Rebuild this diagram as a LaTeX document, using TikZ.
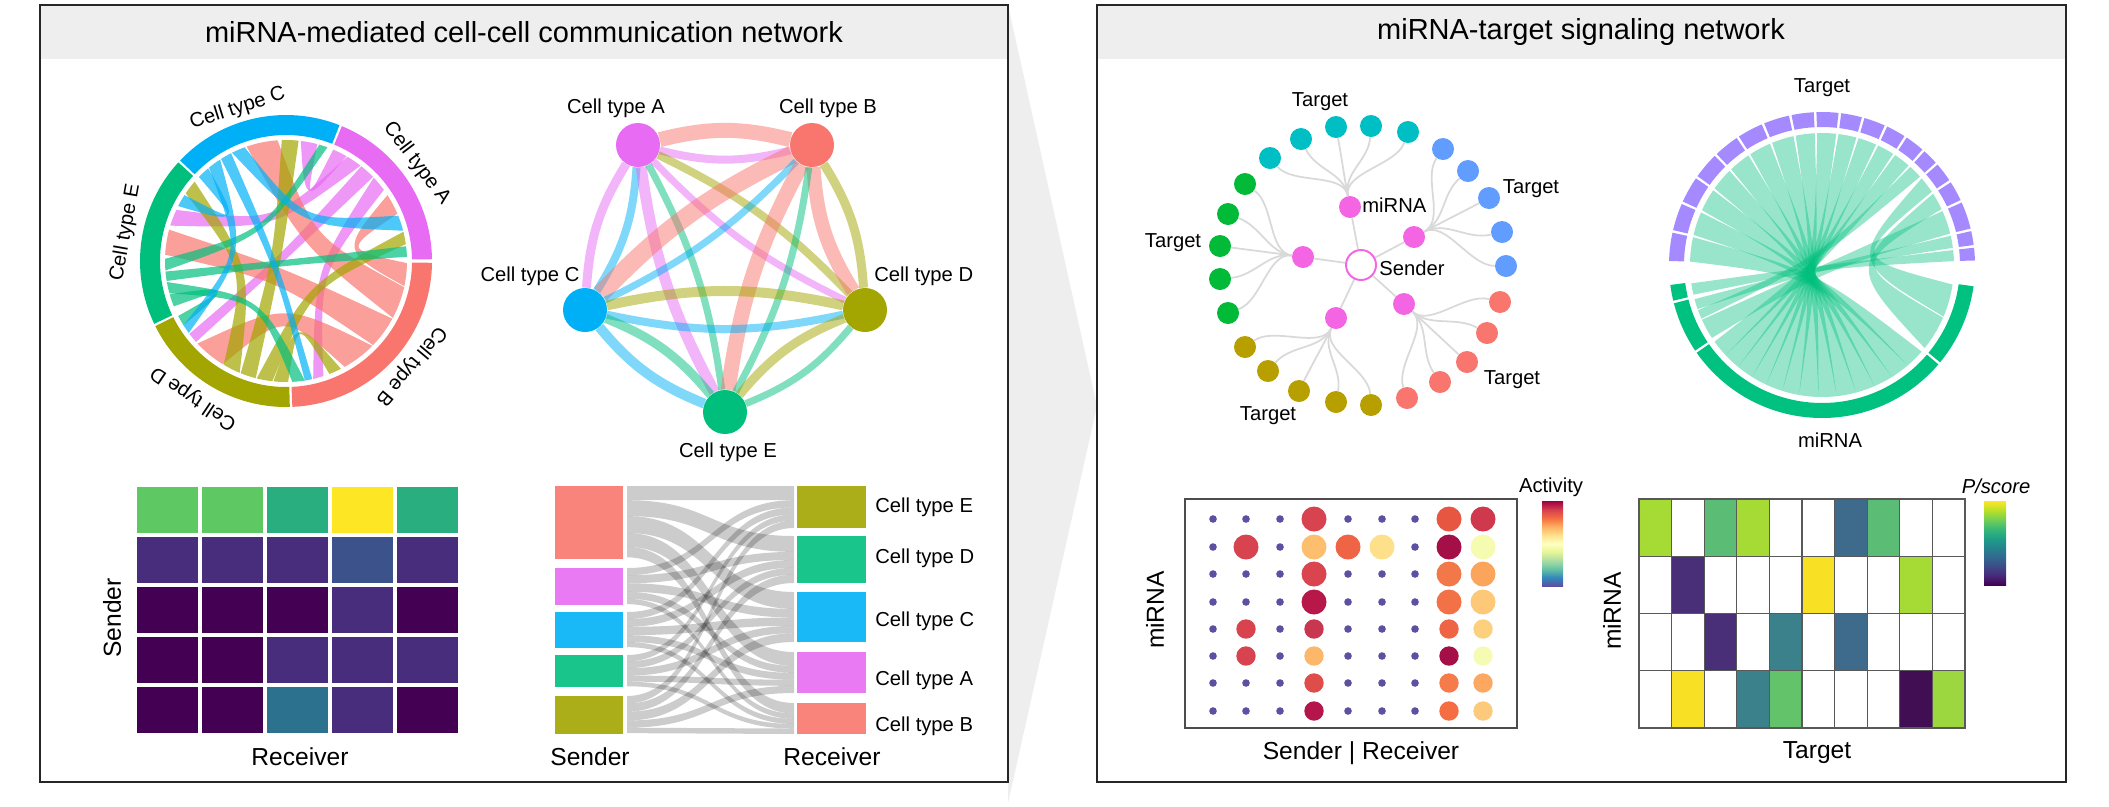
\documentclass[tikz,border=0pt]{standalone}
\usepackage{fontspec}
\setmainfont{Liberation Sans}
\usepackage{xcolor}
\usetikzlibrary{calc,backgrounds}

% cell type colours
\definecolor{ctA}{HTML}{E76BF3}
\definecolor{ctB}{HTML}{F8766D}
\definecolor{ctC}{HTML}{00B0F6}
\definecolor{ctD}{HTML}{A3A500}
\definecolor{ctE}{HTML}{00BF7D}
\definecolor{hdr}{HTML}{EEEEEE}
% tree colours
\definecolor{mirc}{HTML}{F365E3}
\definecolor{tgcy}{HTML}{00BFC4}
\definecolor{tgbl}{HTML}{619CFF}
\definecolor{tgsa}{HTML}{F8766D}
\definecolor{tgol}{HTML}{B79F00}
\definecolor{tggr}{HTML}{00BA38}
\definecolor{linkgray}{HTML}{D9D9D9}
\definecolor{tring}{HTML}{A58AFF}
\definecolor{mring}{HTML}{00C17F}
\definecolor{dotlo}{HTML}{5E4FA2}
% viridis cells
\definecolor{v1}{HTML}{440154}
\definecolor{v2}{HTML}{472D7B}
\definecolor{v3}{HTML}{3B528B}
\definecolor{v4}{HTML}{2C728E}
\definecolor{v5}{HTML}{29AF7F}
\definecolor{v6}{HTML}{5EC962}
\definecolor{v7}{HTML}{FDE725}
\definecolor{hyg}{HTML}{A6DB35}
\definecolor{hgn}{HTML}{5BBC75}
\definecolor{hsb}{HTML}{3E6A8C}
\definecolor{hdp}{HTML}{482F77}
\definecolor{hyl}{HTML}{F8E124}
\definecolor{htl}{HTML}{3B818C}
\definecolor{hgg}{HTML}{63C36A}
\definecolor{hdk}{HTML}{410E53}
\definecolor{hyy}{HTML}{9DD73F}
% colour bars
\definecolor{sp1}{HTML}{5E4FA2}\definecolor{sp2}{HTML}{3288BD}
\definecolor{sp3}{HTML}{66C2A5}\definecolor{sp4}{HTML}{ABDDA4}
\definecolor{sp5}{HTML}{E6F598}\definecolor{sp6}{HTML}{FFFFBF}
\definecolor{sp7}{HTML}{FEE08B}\definecolor{sp8}{HTML}{FDAE61}
\definecolor{sp9}{HTML}{F46D43}\definecolor{sp10}{HTML}{D53E4F}
\definecolor{sp11}{HTML}{9E0142}
\definecolor{vr1}{HTML}{440154}\definecolor{vr2}{HTML}{482878}
\definecolor{vr3}{HTML}{3E4A89}\definecolor{vr4}{HTML}{31688E}
\definecolor{vr5}{HTML}{26828E}\definecolor{vr6}{HTML}{1F9E89}
\definecolor{vr7}{HTML}{35B779}\definecolor{vr8}{HTML}{6DCD59}
\definecolor{vr9}{HTML}{B4DE2C}\definecolor{vr10}{HTML}{FDE725}

\pgfdeclareverticalshading{spectralbar}{100bp}{color(0bp)=(sp1); color(25bp)=(sp1);
  color(30bp)=(sp2); color(35bp)=(sp3); color(40bp)=(sp4); color(45bp)=(sp5);
  color(50bp)=(sp6); color(55bp)=(sp7); color(60bp)=(sp8); color(65bp)=(sp9);
  color(70bp)=(sp10); color(75bp)=(sp11); color(100bp)=(sp11)}
\pgfdeclareverticalshading{viridisbar}{100bp}{color(0bp)=(vr1); color(25bp)=(vr1);
  color(30.5bp)=(vr2); color(36bp)=(vr3); color(41.5bp)=(vr4); color(47bp)=(vr5);
  color(52.5bp)=(vr6); color(58bp)=(vr7); color(63.5bp)=(vr8); color(69bp)=(vr9);
  color(75bp)=(vr10); color(100bp)=(vr10)}

% ribbon between two arcs of a chord diagram (#1 = pull towards the centre)
\newcommand{\chordrib}[7][0.5]{%
  \fill[fill=#2] (#3:#7) arc[start angle=#3, end angle=#4, radius=#7]
    .. controls ({(#4+#5)/2}:{#1*#7*cos((#4-#5)/2)}) .. (#5:#7)
    arc[start angle=#5, end angle=#6, radius=#7]
    .. controls ({(#6+#3)/2}:{#1*#7*cos((#6-#3)/2)}) .. cycle;}
% one sector of the outer ring
\newcommand{\ringseg}[5]{%
  \fill[fill=#1] (#2:#4) arc[start angle=#2, end angle=#3, radius=#4]
    -- (#3:#5) arc[start angle=#3, end angle=#2, radius=#5] -- cycle;}

\begin{document}
\begin{tikzpicture}[x=0.02cm,y=-0.02cm,
  lbl/.style={font=\fontsize{11.5}{13}\selectfont, inner sep=0pt},
  axlbl/.style={font=\fontsize{14}{16}\selectfont, inner sep=0pt},
  ttl/.style={font=\fontsize{16.5}{19}\selectfont, inner sep=0pt},
  panel/.style={draw=black!85, line width=1.5pt},
  ctnode/.style={circle, fill=#1, inner sep=0pt, minimum size=0.88cm},
  nedge/.style args={#1/#2}{draw=#1, line width=#2*0.02cm, draw opacity=.5},
  tnode/.style={circle, fill=#1, inner sep=0pt, minimum size=0.44cm},
  tlink/.style={draw=linkgray, line width=1pt},
  flow/.style={fill=black, fill opacity=.2},
  cellline/.style={draw=black!65, line width=.6pt}]
  \useasboundingbox (0,0) rectangle (2109,806);

  % wedge between the panels
  \fill[hdr] (1008,5) -- (1097,406) -- (1008,803) -- cycle;

  % panels
  \fill[hdr] (40,5) rectangle (1008,59);
  \draw[panel] (40,5) rectangle (1008,782);
  \node[ttl] (ttlL) at (524,32) {miRNA-mediated cell-cell communication network};
  \fill[hdr] (1097,5) rectangle (2066,59);
  \draw[panel] (1097,5) rectangle (2066,782);
  \node[ttl] (ttlR) at (1581,32) {miRNA-target signaling network};

  %% chord diagram of cell types
  \begin{scope}[shift={(286,261)}, yscale=-1]
    \begin{scope}[fill opacity=.7]
      \foreach \c/\a/\b/\p/\q in {ctA/67/60/83/75, ctA/59.5/52/163/155, ctA/51.5/44/-138/-143, ctA/43.5/36/-72/-77,
          ctB/-1/-12/33/23, ctB/-12.5/-28/109/94, ctB/-28.5/-44/177/165, ctB/-44.5/-61/-121.5/-137,
          ctD/-89/-96/-63/-69, ctD/-96.5/-104/14/8, ctD/-104.5/-112/92/84, ctD/-112.5/-121/146/139,
          ctE/202/196/-148/-153, ctE/195.5/190/-81/-87, ctE/189.5/185/7/2, ctE/184.5/179/74/70,
          ctC/136/130/153/147, ctC/129.5/123/-143.5/-148, ctC/122.5/117/-77.5/-81, ctC/116.5/110/22/14.5}
        {\chordrib{\c}{\a}{\b}{\p}{\q}{121}}
    \end{scope}
    \ringseg{ctA}{67.5}{0.7}{146}{126}
    \ringseg{ctB}{-0.7}{-87.5}{146}{126}
    \ringseg{ctD}{-88.5}{-153.5}{146}{126}
    \ringseg{ctE}{205.5}{137.5}{146}{126}
    \ringseg{ctC}{136.5}{68.5}{146}{126}
    \node[lbl, rotate=-53] (chA) at (36.7:163) {Cell type A};
    \node[lbl, rotate=-130] (chB) at (-40:163) {Cell type B};
    \node[lbl, rotate=146] (chD) at (-124:165) {Cell type D};
    \node[lbl, rotate=80] (chE) at (170:163) {Cell type E};
    \node[lbl, rotate=17.6] (chC) at (107.6:160) {Cell type C};
  \end{scope}

  %% network of cell types
  \node[ctnode=ctA] (nA) at (638,145) {};
  \node[ctnode=ctB] (nB) at (812,145) {};
  \node[ctnode=ctC] (nC) at (585,310) {};
  \node[ctnode=ctD] (nD) at (865,310) {};
  \node[ctnode=ctE] (nE) at (725,412) {};
  \node[lbl] (labA) at (616,108) {Cell type A};
  \node[lbl] (labB) at (828,108) {Cell type B};
  \node[lbl] (labC) at (530,276) {Cell type C};
  \node[lbl, anchor=west] (labD) at (874,276) {Cell type D};
  \node[lbl] (labE) at (728,452) {Cell type E};
  \begin{scope}[on background layer]
    \foreach \s/\t/\c/\w/\bd in {nB/nA/ctB/15/14, nA/nB/ctA/8/14, nC/nA/ctC/8/14, nA/nC/ctA/9/14,
        nA/nE/ctA/11/10, nE/nA/ctE/7/10, nA/nD/ctA/7/10, nD/nA/ctD/8/10,
        nB/nC/ctB/18/10, nC/nB/ctC/7/10, nB/nD/ctB/14/14, nD/nB/ctD/9/14,
        nB/nE/ctB/15/10, nE/nB/ctE/7/10, nC/nD/ctC/8/12, nD/nC/ctD/10/12,
        nC/nE/ctC/10/14, nE/nC/ctE/9/14, nD/nE/ctD/9/14, nE/nD/ctE/7/14}
      {\draw[nedge=\c/\w] (\s) to[bend right=\bd] (\t);}
  \end{scope}

  %% heatmap sender x receiver
  \foreach \r/\row in {0/{v6,v6,v5,v7,v5}, 1/{v2,v2,v2,v3,v2}, 2/{v1,v1,v1,v2,v1},
      3/{v1,v1,v2,v2,v2}, 4/{v1,v1,v4,v2,v1}}
    \foreach \c [count=\k from 0] in \row
      {\fill[fill=\c] ({137+65*\k},{487+50*\r}) rectangle +(61,46);}
  \node[axlbl, rotate=90] (hmSnd) at (112,618) {Sender};
  \node[axlbl] (hmRcv) at (300,757) {Receiver};

  %% sankey
  \foreach \lt/\lh/\lc in {486/73/0, 568/37/73, 612/36/110, 655/32/146, 696/38/178}
    \foreach \rt/\rh/\rc in {486/42/0, 536/47/42, 592/50/89, 652/41/139, 703/31/180} {
      \pgfmathsetmacro\ya{\lt+\lh*\rc/216}
      \pgfmathsetmacro\yb{\ya+\lh*\rh/216}
      \pgfmathsetmacro\yc{\rt+\rh*\lc/216}
      \pgfmathsetmacro\yd{\yc+\lh*\rh/216}
      \fill[flow] (627,\ya) .. controls (711,\ya) and (711,\yc) .. (794,\yc)
        -- (794,\yd) .. controls (711,\yd) and (711,\yb) .. (627,\yb) -- cycle;
    }
  \fill[ctB!90] (555,486) rectangle (623,559);
  \fill[ctA!90] (555,568) rectangle (623,605);
  \fill[ctC!90] (555,612) rectangle (623,648);
  \fill[ctE!90] (555,655) rectangle (623,687);
  \fill[ctD!90] (555,696) rectangle (623,734);
  \fill[ctD!90] (797,486) rectangle (866,528);
  \fill[ctE!90] (797,536) rectangle (866,583);
  \fill[ctC!90] (797,592) rectangle (866,642);
  \fill[ctA!90] (797,652) rectangle (866,693);
  \fill[ctB!90] (797,703) rectangle (866,734);
  \node[lbl, anchor=west] (skE) at (875,507) {Cell type E};
  \node[lbl, anchor=west] (skD) at (875,558) {Cell type D};
  \node[lbl, anchor=west] (skC) at (875,621) {Cell type C};
  \node[lbl, anchor=west] (skA) at (875,680) {Cell type A};
  \node[lbl, anchor=west] (skB) at (875,726) {Cell type B};
  \node[axlbl] (skSnd) at (590,757) {Sender};
  \node[axlbl] (skRcv) at (832,757) {Receiver};

  %% miRNA-target tree
  \node[circle, draw=mirc, fill=white, line width=1.1pt, inner sep=0pt, minimum size=0.6cm] (snd) at (1361,265) {};
  \node[lbl, anchor=west] (sndLab) at (1379,268) {Sender};
  \foreach \n/\x/\y in {m1/1350/207, m2/1414/237, m3/1404/304, m4/1336/318, m5/1303/257}
    {\node[tnode=mirc] (\n) at (\x,\y) {};}
  \node[lbl, anchor=west] (mirLab) at (1362,205) {miRNA};
  \foreach \n/\x/\y/\c in {cy1/1270/158/tgcy, cy2/1301/139/tgcy, cy3/1336/127/tgcy, cy4/1371/126/tgcy, cy5/1408/132/tgcy,
      bl1/1443/149/tgbl, bl2/1468/171/tgbl, bl3/1489/198/tgbl, bl4/1502/232/tgbl, bl5/1506/266/tgbl,
      sa1/1500/302/tgsa, sa2/1487/333/tgsa, sa3/1467/362/tgsa, sa4/1440/382/tgsa, sa5/1407/398/tgsa,
      ol1/1371/405/tgol, ol2/1336/402/tgol, ol3/1299/391/tgol, ol4/1268/371/tgol, ol5/1245/347/tgol,
      gr1/1228/313/tggr, gr2/1220/279/tggr, gr3/1220/246/tggr, gr4/1228/214/tggr, gr5/1245/184/tggr}
    {\node[tnode=\c] (\n) at (\x,\y) {};}
  \begin{scope}[on background layer]
    \foreach \m in {m1,m2,m3,m4,m5}
      {\draw[tlink] (snd) -- (\m);}
    \foreach \m/\g in {m1/cy, m2/bl, m3/sa, m4/ol, m5/gr}
      \foreach \k in {1,...,5}
        {\draw[tlink] (\m) .. controls ($(snd)!1.6!(\m)$) and ($(snd)!.75!(\g\k)$) .. (\g\k);}
  \end{scope}
  \node[lbl] (tgTop) at (1320,102) {Target};
  \node[lbl] (tgRt) at (1531,189) {Target};
  \node[lbl] (tgLt) at (1173,243) {Target};
  \node[lbl] (tgBl) at (1268,416) {Target};
  \node[lbl] (tgBr) at (1512,380) {Target};

  %% miRNA-target chord diagram
  \begin{scope}[shift={(1822,265)}, yscale=-1]
    \begin{scope}[fill opacity=.4]
      \foreach \a/\b/\p/\q in {178.5/167.8/319/310.5, 166.8/156.5/310.5/302, 155.5/145.5/302/293.5,
          144.5/134.5/293.5/285, 133.5/123.9/285/276.5, 122.9/113.2/276.5/268.5, 112.2/102.5/268.5/260,
          101.5/93.1/260/252.5, 92.1/83.8/252.5/245, 82.8/74.9/245/238, 73.9/65.8/238/230.5,
          64.8/57.4/230.5/223, 56.4/49/223/215.5, 48/42/204/200, 41/33.7/351.5/337, 32.7/25.1/336.5/321,
          24.1/13.8/213.5/204.5, 12.8/7.5/199.5/195, 6.5/1.7/193/188}
        {\chordrib[0.25]{ctE}{\a}{\b}{\p}{\q}{132}}
    \end{scope}
    \foreach \a/\b in {178.5/167.8, 166.8/156.5, 155.5/145.5, 144.5/134.5, 133.5/123.9, 122.9/113.2,
        112.2/102.5, 101.5/93.1, 92.1/83.8, 82.8/74.9, 73.9/65.8, 64.8/57.4, 56.4/49, 48/42,
        41/33.7, 32.7/25.1, 24.1/13.8, 12.8/7.5, 6.5/1.7}
      {\ringseg{tring}{\a}{\b}{153}{138}}
    \foreach \a/\b in {187.5/193.5, 194.5/214, 215/319.5, 320.5/352}
      {\ringseg{mring}{\a}{\b}{153}{138}}
  \end{scope}
  \node[lbl] (crTg) at (1822,88) {Target};
  \node[lbl] (crMi) at (1830,440) {miRNA};

  %% dot plot
  \draw[black!70, line width=.6pt] (1185,499) rectangle (1517,728);
  \foreach \cx in {1213,1246,1280,1314,1348,1382,1415,1449,1483}
    \foreach \cy in {519,547,574,602,629,656,683,711}
      {\fill[dotlo] (\cx,\cy) circle[radius=3.8];}
  \foreach \cx/\cy/\rr/\hx in {1314/519/12.5/D7434F, 1449/519/12.5/E65641, 1483/519/12.5/D0384E,
      1246/547/12.5/D7434F, 1314/547/12.5/FDBE6E, 1348/547/12.5/EE6445, 1382/547/12.5/FEE08B,
      1449/547/12.5/A50F48, 1483/547/12.5/F5FBB1,
      1314/574/12.5/D9444E, 1449/574/12.5/F37849, 1483/574/12.5/FBA45C,
      1314/602/12.5/B8174A, 1449/602/12.5/F37147, 1483/602/12.5/FDC877,
      1246/629/9.7/D8434E, 1314/629/9.7/C93650, 1449/629/9.7/EE6445, 1483/629/9.7/FDD07D,
      1246/656/9.7/D7434F, 1314/656/9.7/FCB76A, 1449/656/9.7/A50F48, 1483/656/9.7/F6FBB3,
      1314/683/9.7/DF4D4B, 1449/683/9.7/F67B4A, 1483/683/9.7/FCA860,
      1314/711/9.7/B4154A, 1449/711/9.7/F46D43, 1483/711/9.7/FDC97B} {
    \definecolor{dotc}{HTML}{\hx}
    \fill[dotc] (\cx,\cy) circle[radius=\rr];
  }
  \node[axlbl, rotate=90] (dpMi) at (1155,610) {miRNA};
  \node[axlbl] (dpSR) at (1361,753) {Sender | Receiver};
  \node[lbl] (actLab) at (1551,487) {Activity};
  \shade[shading=spectralbar] (1542,501) rectangle (1563,586);

  %% target heatmap
  \foreach \r/\row in {0/{hyg,white,hgn,hyg,white,white,hsb,hgn,white,white},
      1/{white,hdp,white,white,white,hyl,white,white,hyg,white},
      2/{white,white,hdp,white,htl,white,hsb,white,white,white},
      3/{white,hyl,white,htl,hgg,white,white,white,hdk,hyy}}
    \foreach \c [count=\k from 0] in \row
      {\filldraw[cellline, fill=\c] ({1639+32.6*\k},{499+57.25*\r}) rectangle +(32.6,57.25);}
  \node[axlbl, rotate=90] (hmMi) at (1612,611) {miRNA};
  \node[axlbl] (hmTg) at (1817,753) {Target};
  \node[lbl, font=\fontsize{11.5}{13}\selectfont\itshape] (psLab) at (1996,486) {P/score};
  \shade[shading=viridisbar] (1984,501) rectangle (2006,585);
\end{tikzpicture}
\end{document}
